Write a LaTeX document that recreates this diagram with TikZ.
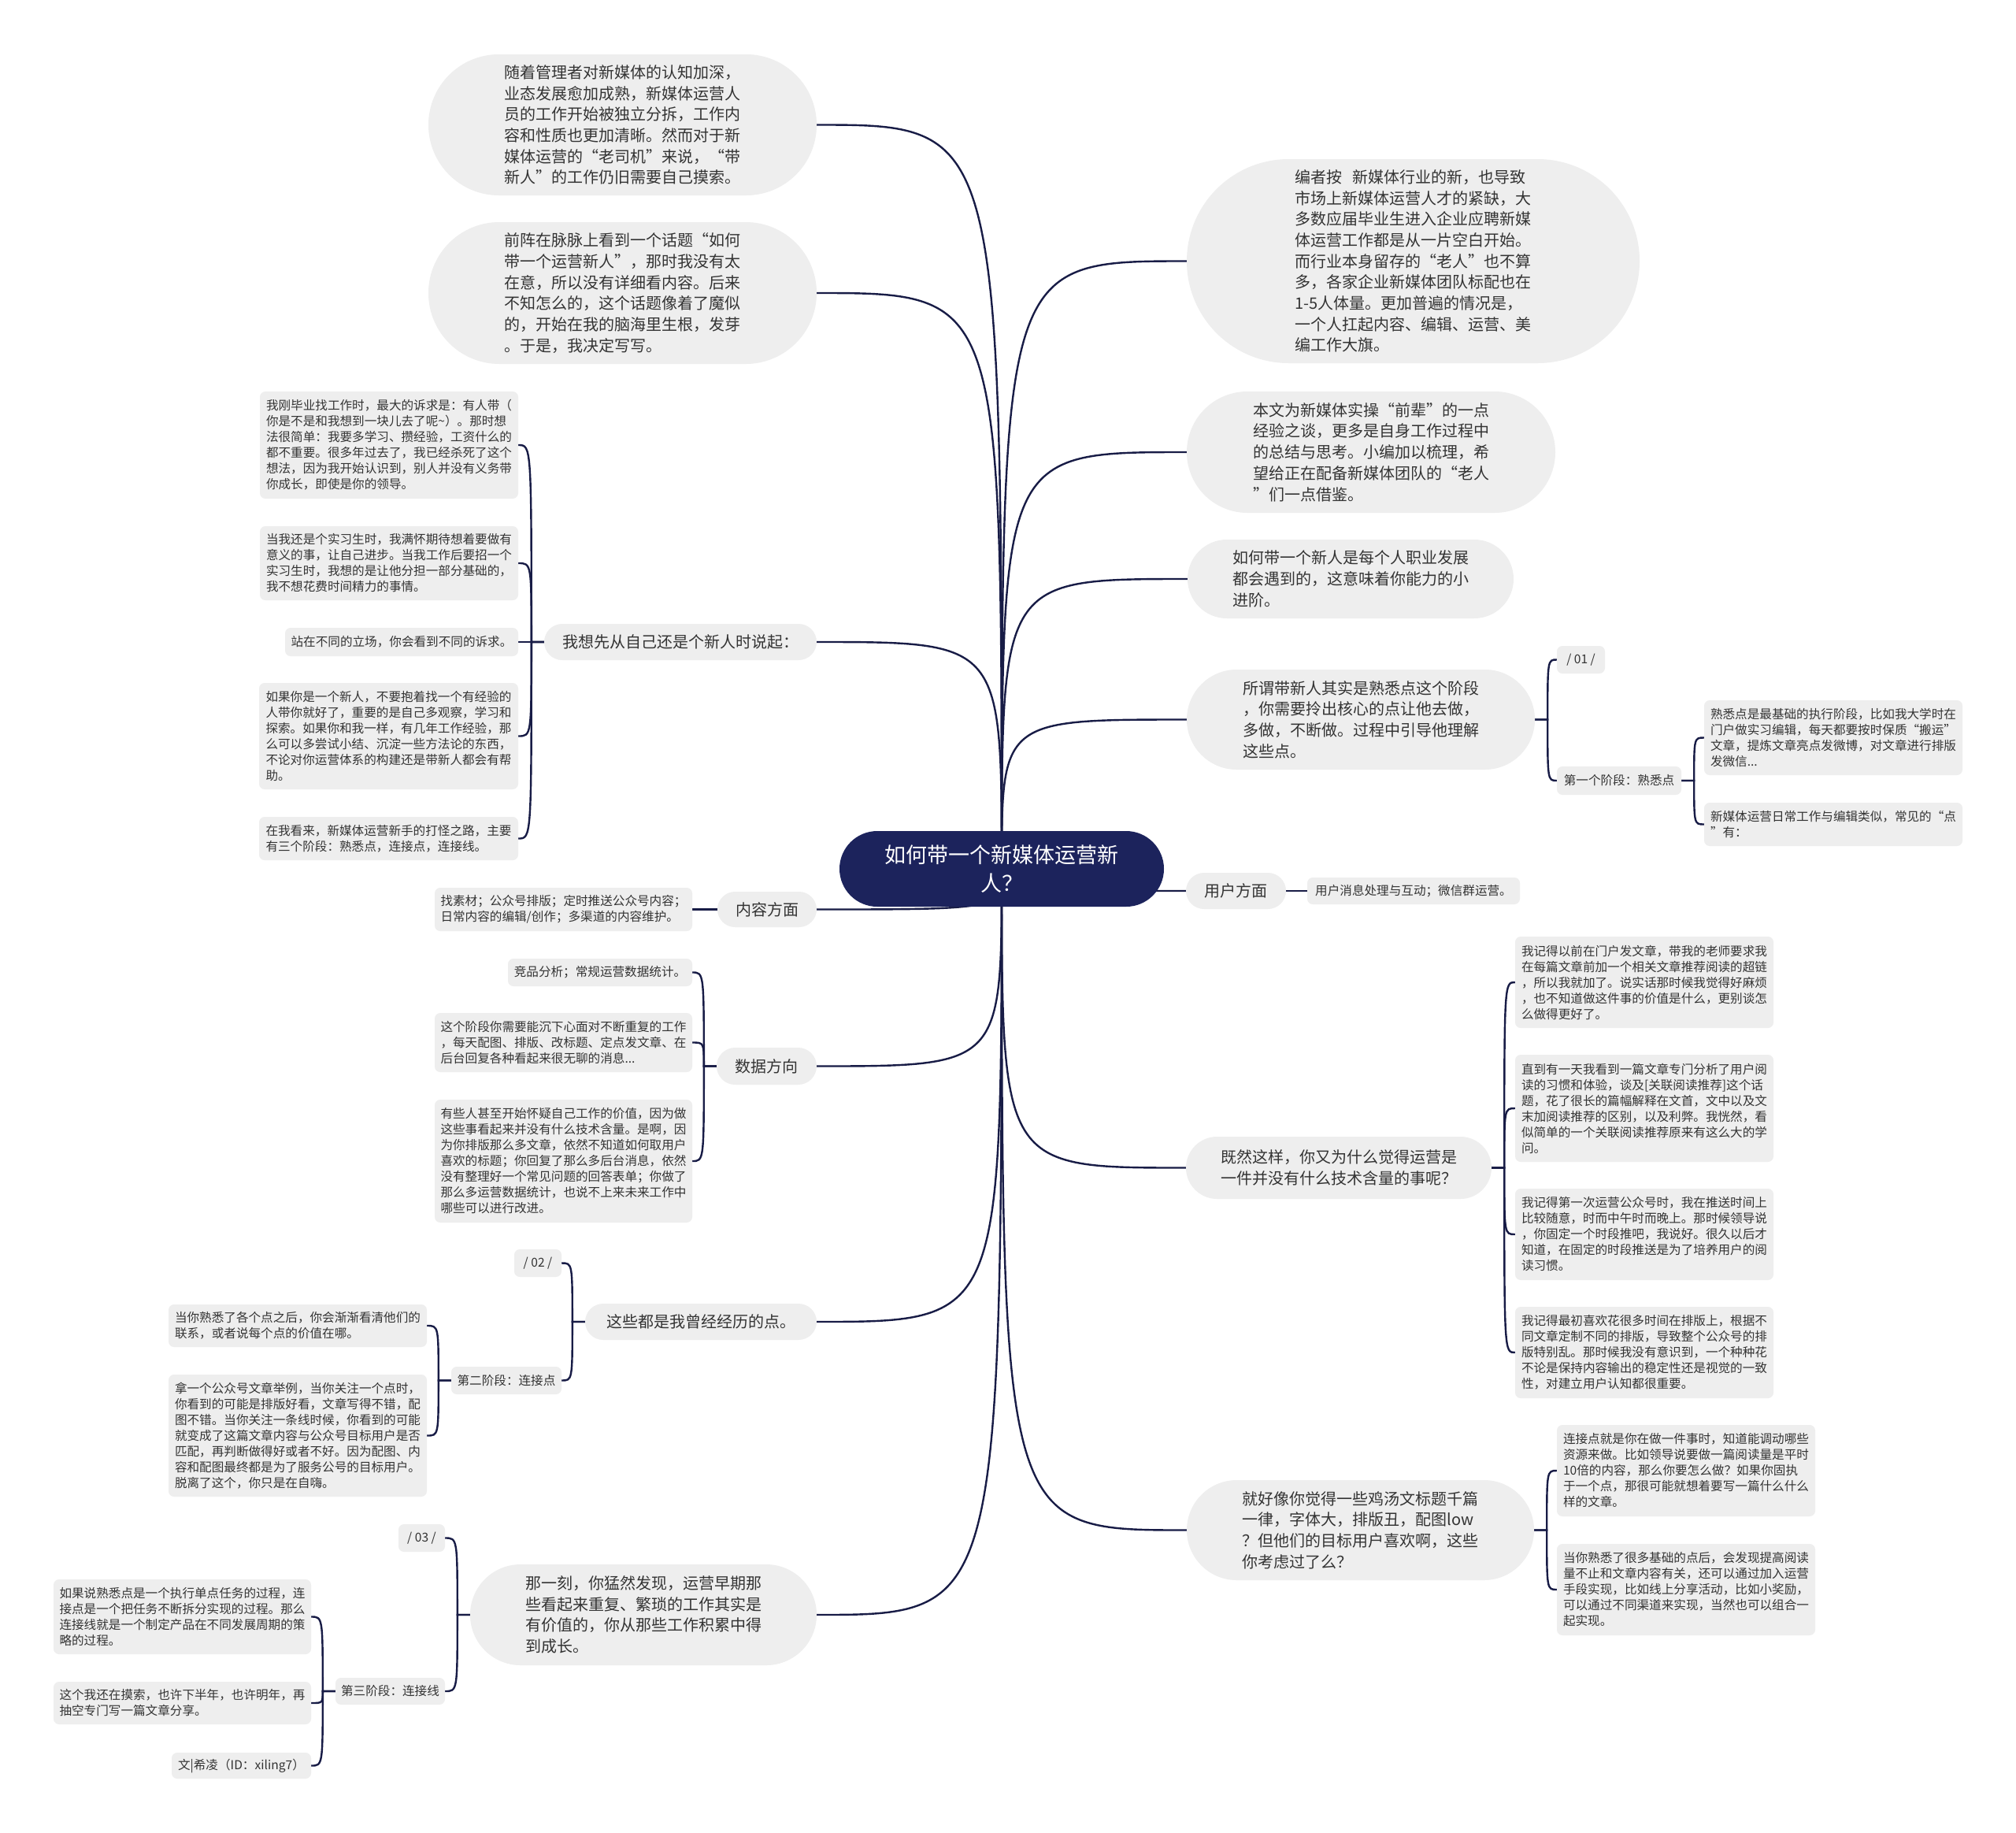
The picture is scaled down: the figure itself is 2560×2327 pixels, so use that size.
\documentclass[tikz,border=0pt]{standalone}
\usepackage{fontspec}
\setmainfont{Noto Sans CJK SC}
\usetikzlibrary{shapes.misc, backgrounds}

\definecolor{hubnavy}{RGB}{28,35,92}
\definecolor{linenavy}{RGB}{24,28,70}
\definecolor{bubblegrey}{RGB}{238,238,238}
\definecolor{inkgrey}{RGB}{51,51,51}

\begin{document}
\begin{tikzpicture}[x=1pt, y=-1pt,
    % pill bubbles for the branches, small boxes for the leaves
    hubnode/.style={rounded rectangle, fill=hubnavy, text=white, align=center, font=\fontsize{27}{36}\selectfont, inner sep=0pt},
    topic/.style={rounded rectangle, fill=bubblegrey, text=inkgrey, align=left, font=\fontsize{20}{26.7}\selectfont, inner sep=0pt},
    leaf/.style={rectangle, rounded corners=7pt, fill=bubblegrey, text=inkgrey, align=left, font=\fontsize{15.6}{20}\selectfont, inner sep=0pt},
    wh/.style 2 args={minimum width=#1pt, minimum height=#2pt},
    conn/.style={draw=linenavy, line width=2.4pt}]

\useasboundingbox (0,0) rectangle (2560,2327);

% Central topic
\node[hubnode, wh={412}{96}] (hub) at (1272,1103) {如何带一个新媒体运营新\\人？};

% Left branches
\node[topic, wh={493}{179}] (l1) at (790.5,158.5) {随着管理者对新媒体的认知加深，\\业态发展愈加成熟，新媒体运营人\\员的工作开始被独立分拆，工作内\\容和性质也更加清晰。然而对于新\\媒体运营的“老司机”来说，“带\\新人”的工作仍旧需要自己摸索。};
\node[topic, wh={493}{180}] (l2) at (790.5,372) {前阵在脉脉上看到一个话题“如何\\带一个运营新人”，那时我没有太\\在意，所以没有详细看内容。后来\\不知怎么的，这个话题像着了魔似\\的，开始在我的脑海里生根，发芽\\。于是，我决定写写。};
\node[topic, wh={346}{46}] (l3) at (864,815) {我想先从自己还是个新人时说起：};
\node[topic, wh={126}{45}] (l4) at (974,1154.5) {内容方面};
\node[topic, wh={127}{47}] (l5) at (973.5,1353.5) {数据方向};
\node[topic, wh={294}{46}] (l6) at (890,1678) {这些都是我曾经经历的点。};
\node[topic, wh={440}{128}] (l7) at (817,2050) {那一刻，你猛然发现，运营早期那\\些看起来重复、繁琐的工作其实是\\有价值的，你从那些工作积累中得\\到成长。};

% Leaves of l3
\node[leaf, wh={328}{136}] (c1) at (494,565) {我刚毕业找工作时，最大的诉求是：有人带（\\你是不是和我想到一块儿去了呢\textasciitilde）。那时想\\法很简单：我要多学习、攒经验，工资什么的\\都不重要。很多年过去了，我已经杀死了这个\\想法，因为我开始认识到，别人并没有义务带\\你成长，即使是你的领导。};
\node[leaf, wh={328}{94}] (c2) at (494,715) {当我还是个实习生时，我满怀期待想着要做有\\意义的事，让自己进步。当我工作后要招一个\\实习生时，我想的是让他分担一部分基础的，\\我不想花费时间精力的事情。};
\node[leaf, wh={296}{36}] (c3) at (510,815) {站在不同的立场，你会看到不同的诉求。};
\node[leaf, wh={329}{135}] (c4) at (493.5,934.5) {如果你是一个新人，不要抱着找一个有经验的\\人带你就好了，重要的是自己多观察，学习和\\探索。如果你和我一样，有几年工作经验，那\\么可以多尝试小结、沉淀一些方法论的东西，\\不论对你运营体系的构建还是带新人都会有帮\\助。};
\node[leaf, wh={329}{55}] (c5) at (493.5,1064.5) {在我看来，新媒体运营新手的打怪之路，主要\\有三个阶段：熟悉点，连接点，连接线。};

% Leaves of l4, l5
\node[leaf, wh={327}{55}] (k1) at (715.5,1154.5) {找素材；公众号排版；定时推送公众号内容；\\日常内容的编辑/创作；多渠道的内容维护。};
\node[leaf, wh={234}{35}] (d1) at (762,1234.5) {竞品分析；常规运营数据统计。};
\node[leaf, wh={327}{75}] (d2) at (715.5,1323.5) {这个阶段你需要能沉下心面对不断重复的工作\\，每天配图、排版、改标题、定点发文章、在\\后台回复各种看起来很无聊的消息...};
\node[leaf, wh={327}{156}] (d3) at (715.5,1474) {有些人甚至开始怀疑自己工作的价值，因为做\\这些事看起来并没有什么技术含量。是啊，因\\为你排版那么多文章，依然不知道如何取用户\\喜欢的标题；你回复了那么多后台消息，依然\\没有整理好一个常见问题的回答表单；你做了\\那么多运营数据统计，也说不上来未来工作中\\哪些可以进行改进。};

% Stage two under l6
\node[leaf, wh={60}{35}] (t2) at (683,1603.5) {/ 02 /};
\node[leaf, wh={140}{35}] (s2) at (643,1752.5) {第二阶段：连接点};
\node[leaf, wh={328}{54}] (s2a) at (378,1683) {当你熟悉了各个点之后，你会渐渐看清他们的\\联系，或者说每个点的价值在哪。};
\node[leaf, wh={328}{155}] (s2b) at (378,1822.5) {拿一个公众号文章举例，当你关注一个点时，\\你看到的可能是排版好看，文章写得不错，配\\图不错。当你关注一条线时候，你看到的可能\\就变成了这篇文章内容与公众号目标用户是否\\匹配，再判断做得好或者不好。因为配图、内\\容和配图最终都是为了服务公号的目标用户。\\脱离了这个，你只是在自嗨。};

% Stage three under l7
\node[leaf, wh={59}{35}] (t3) at (535.5,1952.5) {/ 03 /};
\node[leaf, wh={139}{34}] (s3) at (495.5,2147) {第三阶段：连接线};
\node[leaf, wh={327}{95}] (s3a) at (231.5,2052.5) {如果说熟悉点是一个执行单点任务的过程，连\\接点是一个把任务不断拆分实现的过程。那么\\连接线就是一个制定产品在不同发展周期的策\\略的过程。};
\node[leaf, wh={327}{54}] (s3b) at (231.5,2162) {这个我还在摸索，也许下半年，也许明年，再\\抽空专门写一篇文章分享。};
\node[leaf, wh={177}{33}] (s3c) at (306.5,2241.5) {文|希凌（ID：xiling7）};

% Right branches
\node[topic, wh={575}{259}] (r1) at (1794.5,331.5) {编者按\hspace{0.65em}新媒体行业的新，也导致\\市场上新媒体运营人才的紧缺，大\\多数应届毕业生进入企业应聘新媒\\体运营工作都是从一片空白开始。\\而行业本身留存的“老人”也不算\\多，各家企业新媒体团队标配也在\\1-5人体量。更加普遍的情况是，\\一个人扛起内容、编辑、运营、美\\编工作大旗。};
\node[topic, wh={468}{154}] (r2) at (1741,574) {本文为新媒体实操“前辈”的一点\\经验之谈，更多是自身工作过程中\\的总结与思考。小编加以梳理，希\\望给正在配备新媒体团队的“老人\\”们一点借鉴。};
\node[topic, wh={414}{100}] (r3) at (1715,735) {如何带一个新人是每个人职业发展\\都会遇到的，这意味着你能力的小\\进阶。};
\node[topic, wh={442}{127}] (r4) at (1728,913.5) {所谓带新人其实是熟悉点这个阶段\\，你需要拎出核心的点让他去做，\\多做，不断做。过程中引导他理解\\这些点。};
\node[topic, wh={127}{46}] (r5) at (1569.5,1131) {用户方面};
\node[topic, wh={388}{79}] (r6) at (1700,1482.5) {既然这样，你又为什么觉得运营是\\一件并没有什么技术含量的事呢？};
\node[topic, wh={441}{127}] (r7) at (1727.5,1942.5) {就好像你觉得一些鸡汤文标题千篇\\一律，字体大，排版丑，配图low\\？但他们的目标用户喜欢啊，这些\\你考虑过了么？};

% Stage one under r4
\node[leaf, wh={61}{35}] (t1) at (2007.5,837.5) {/ 01 /};
\node[leaf, wh={158}{36}] (s1) at (2056,991) {第一个阶段：熟悉点};
\node[leaf, wh={328}{95}] (f1) at (2328,936.5) {熟悉点是最基础的执行阶段，比如我大学时在\\门户做实习编辑，每天都要按时保质“搬运”\\文章，提炼文章亮点发微博，对文章进行排版\\发微信...};
\node[leaf, wh={328}{55}] (f2) at (2328,1046.5) {新媒体运营日常工作与编辑类似，常见的“点\\”有：};

% Leaves of r5, r6, r7
\node[leaf, wh={270}{34}] (u1) at (1795,1131) {用户消息处理与互动；微信群运营。};
\node[leaf, wh={328}{116}] (w1) at (2088,1247) {我记得以前在门户发文章，带我的老师要求我\\在每篇文章前加一个相关文章推荐阅读的超链\\，所以我就加了。说实话那时候我觉得好麻烦\\，也不知道做这件事的价值是什么，更别谈怎\\么做得更好了。};
\node[leaf, wh={328}{136}] (w2) at (2088,1407) {直到有一天我看到一篇文章专门分析了用户阅\\读的习惯和体验，谈及[关联阅读推荐]这个话\\题，花了很长的篇幅解释在文首，文中以及文\\末加阅读推荐的区别，以及利弊。我恍然，看\\似简单的一个关联阅读推荐原来有这么大的学\\问。};
\node[leaf, wh={328}{116}] (w3) at (2088,1567) {我记得第一次运营公众号时，我在推送时间上\\比较随意，时而中午时而晚上。那时候领导说\\，你固定一个时段推吧，我说好。很久以后才\\知道，在固定的时段推送是为了培养用户的阅\\读习惯。};
\node[leaf, wh={328}{116}] (w4) at (2088,1717) {我记得最初喜欢花很多时间在排版上，根据不\\同文章定制不同的排版，导致整个公众号的排\\版特别乱。那时候我没有意识到，一个种种花\\不论是保持内容输出的稳定性还是视觉的一致\\性，对建立用户认知都很重要。};
\node[leaf, wh={328}{116}] (j1) at (2141,1867) {连接点就是你在做一件事时，知道能调动哪些\\资源来做。比如领导说要做一篇阅读量是平时\\10倍的内容，那么你要怎么做？如果你固执\\于一个点，那很可能就想着要写一篇什么什么\\样的文章。};
\node[leaf, wh={328}{116}] (j2) at (2141,2018) {当你熟悉了很多基础的点后，会发现提高阅读\\量不止和文章内容有关，还可以通过加入运营\\手段实现，比如线上分享活动，比如小奖励，\\可以通过不同渠道来实现，当然也可以组合一\\起实现。};

% Junctions where the sub-branches split
\coordinate (jl3) at ([xshift=-16pt]l3.west);
\coordinate (jl5) at ([xshift=-16pt]l5.west);
\coordinate (jl6) at ([xshift=-16pt]l6.west);
\coordinate (js2) at ([xshift=-16pt]s2.west);
\coordinate (jl7) at ([xshift=-16pt]l7.west);
\coordinate (js3) at ([xshift=-16pt]s3.west);
\coordinate (jr4) at ([xshift=16pt]r4.east);
\coordinate (js1) at ([xshift=16pt]s1.east);
\coordinate (jr6) at ([xshift=16pt]r6.east);
\coordinate (jr7) at ([xshift=16pt]r7.east);

\begin{scope}[on background layer]
\fill[white] (0,0) rectangle (2560,2327);
% hub to main branches
\foreach \b in {l1,l2,l3,l4,l5,l6,l7}
    \draw[conn] (hub.center) .. controls (hub.center |- \b.east) .. (\b.east);
\foreach \b in {r1,r2,r3,r4,r5,r6,r7}
    \draw[conn] (hub.center) .. controls (hub.center |- \b.west) .. (\b.west);
% left sub-branches
\foreach \c in {c1,c2,c3,c4,c5}
    \draw[conn] (l3.west) -- (jl3) .. controls (jl3 |- \c.east) .. (\c.east);
\draw[conn] (l4.west) -- (k1.east);
\foreach \c in {d1,d2,d3}
    \draw[conn] (l5.west) -- (jl5) .. controls (jl5 |- \c.east) .. (\c.east);
\foreach \c in {t2,s2}
    \draw[conn] (l6.west) -- (jl6) .. controls (jl6 |- \c.east) .. (\c.east);
\foreach \c in {s2a,s2b}
    \draw[conn] (s2.west) -- (js2) .. controls (js2 |- \c.east) .. (\c.east);
\foreach \c in {t3,s3}
    \draw[conn] (l7.west) -- (jl7) .. controls (jl7 |- \c.east) .. (\c.east);
\foreach \c in {s3a,s3b,s3c}
    \draw[conn] (s3.west) -- (js3) .. controls (js3 |- \c.east) .. (\c.east);
% right sub-branches
\foreach \c in {t1,s1}
    \draw[conn] (r4.east) -- (jr4) .. controls (jr4 |- \c.west) .. (\c.west);
\foreach \c in {f1,f2}
    \draw[conn] (s1.east) -- (js1) .. controls (js1 |- \c.west) .. (\c.west);
\draw[conn] (r5.east) -- (u1.west);
\foreach \c in {w1,w2,w3,w4}
    \draw[conn] (r6.east) -- (jr6) .. controls (jr6 |- \c.west) .. (\c.west);
\foreach \c in {j1,j2}
    \draw[conn] (r7.east) -- (jr7) .. controls (jr7 |- \c.west) .. (\c.west);
\end{scope}

\end{tikzpicture}
\end{document}
